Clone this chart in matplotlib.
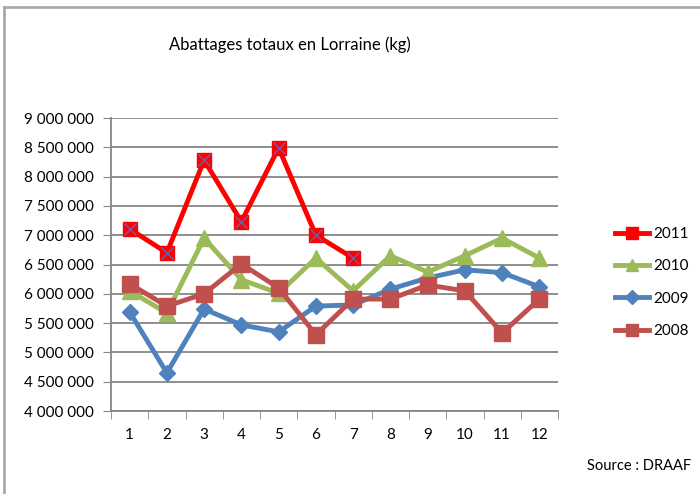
import matplotlib.pyplot as plt
from matplotlib.lines import Line2D
from matplotlib.ticker import FuncFormatter, MultipleLocator

plt.rcParams['font.family'] = ['Lato', 'DejaVu Sans']

months = [1, 2, 3, 4, 5, 6, 7, 8, 9, 10, 11, 12]
y2011 = [7106000, 6700000, 8280000, 7230000, 8490000, 7000000, 6610000]
y2010 = [6050000, 5670000, 6950000, 6240000, 6010000, 6610000, 6050000,
         6650000, 6370000, 6650000, 6950000, 6610000]
y2009 = [5690000, 4650000, 5740000, 5470000, 5350000, 5790000, 5810000,
         6080000, 6270000, 6410000, 6360000, 6120000]
y2008 = [6170000, 5790000, 6000000, 6510000, 6100000, 5300000, 5910000,
         5910000, 6150000, 6050000, 5330000, 5910000]

fig = plt.figure(figsize=(7, 4.94), dpi=100)
ax = fig.add_axes([111 / 700, 1 - 411 / 494, 447 / 700, 293 / 494])

gray = '#868686'
ax.plot(months[:7], y2011, color='#ff0000', lw=3.5, marker='s', ms=10,
        mfc='#ff0000', mec='#ff0000', zorder=5)
ax.plot(months[:7], y2011, ls='none', marker='x', ms=9, mec='#6e5fb0',
        mew=1.0, zorder=6)
ax.plot(months, y2010, color='#9bbb59', lw=3.5, marker='^', ms=11, zorder=4)
ax.plot(months, y2009, color='#4f81bd', lw=3.5, marker='D', ms=8, zorder=3)
ax.plot(months, y2008, color='#c0504d', lw=3.5, marker='s', ms=11, zorder=4)

ax.set_xlim(0.5, 12.5)
ax.set_ylim(4000000, 9000000)
ax.yaxis.set_major_locator(MultipleLocator(500000))
ax.yaxis.set_major_formatter(FuncFormatter(lambda v, p: f'{int(v):,}'.replace(',', ' ')))
ax.set_xticks(months)
ax.set_xticks([m + 0.5 for m in range(0, 13)], minor=True)
ax.tick_params(axis='x', which='major', length=0, pad=12, labelsize=11)
ax.tick_params(axis='x', which='minor', length=6, color=gray, direction='out')
ax.tick_params(axis='y', length=6, color=gray, labelsize=11, pad=6)
ax.grid(axis='y', color=gray, lw=1.3)
ax.set_axisbelow(True)
for s in ['top', 'right']:
    ax.spines[s].set_visible(False)
for s in ['left', 'bottom']:
    ax.spines[s].set_color(gray)
    ax.spines[s].set_linewidth(1.3)

handles = [
    Line2D([], [], color='#ff0000', lw=3.5, marker='s', ms=8, mec='#ff0000'),
    Line2D([], [], color='#9bbb59', lw=3.5, marker='^', ms=9),
    Line2D([], [], color='#4f81bd', lw=3.5, marker='D', ms=7),
    Line2D([], [], color='#c0504d', lw=3.5, marker='s', ms=9),
]
fig.legend(handles, ['2011', '2010', '2009', '2008'], loc='upper left',
           bbox_to_anchor=(615 / 700, 1 - 227 / 494), frameon=False,
           fontsize=11, handlelength=2.2, handletextpad=0.3, borderpad=0,
           borderaxespad=0, labelspacing=1.2)

fig.text(290 / 700, 1 - 45 / 494, 'Abattages totaux en Lorraine (kg)',
         ha='center', va='center', fontsize=12)
fig.text(587 / 700, 1 - 466 / 494, 'Source : DRAAF', ha='left', va='center',
         fontsize=10.5)

# frame of the chart
fig.add_artist(Line2D([4 / 700, 4 / 700], [0, 1 - 7 / 494], color='#aaaaaa',
                      lw=2, transform=fig.transFigure))
fig.add_artist(Line2D([4 / 700, 1], [1 - 7 / 494, 1 - 7 / 494], color='#aaaaaa',
                      lw=2, transform=fig.transFigure))

fig.savefig('out.png', dpi=100)
